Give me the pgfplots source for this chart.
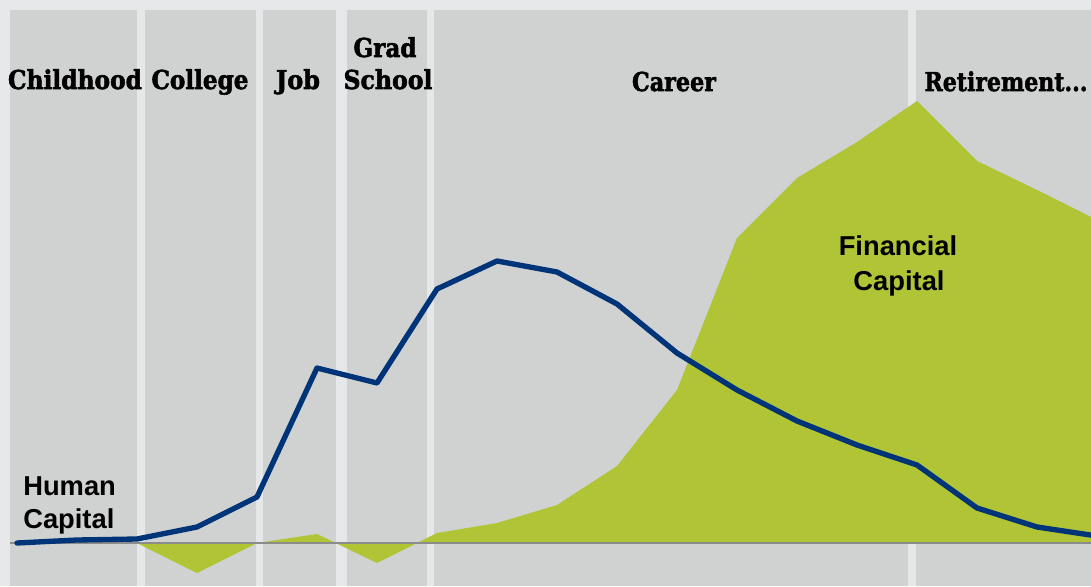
\documentclass[border=0pt]{standalone}
\usepackage{pgfplots}
\pgfplotsset{compat=1.18}
\usepackage{fontspec}
\setmainfont{Liberation Sans}
\newfontfamily\hdr{DejaVu Serif}[BoldFeatures={FakeBold=2.2}]
\definecolor{bgc}{HTML}{E6E7E8}
\definecolor{band}{HTML}{D0D2D1}
\definecolor{fin}{HTML}{B0C436}
\definecolor{hum}{HTML}{003478}
\definecolor{base}{HTML}{8C8C8C}
\newcommand{\hd}[2]{{\hdr\bfseries\fontsize{19.5}{20}\selectfont\resizebox{#1}{\height}{#2}}}
\newcommand{\lb}{\bfseries\fontsize{20.5}{21}\selectfont}
\begin{document}
\begin{tikzpicture}
\begin{axis}[name=ax, scale only axis, width=818.25pt, height=439.5pt,
  xmin=0, xmax=1091, ymin=-43, ymax=543, hide axis, clip=true]
\fill[bgc] (axis cs:0,-43) rectangle (axis cs:1091,543);
\fill[band] (axis cs:10,-43) rectangle (axis cs:137,533);
\fill[band] (axis cs:145,-43) rectangle (axis cs:256,533);
\fill[band] (axis cs:263,-43) rectangle (axis cs:336,533);
\fill[band] (axis cs:347,-43) rectangle (axis cs:427,533);
\fill[band] (axis cs:434,-43) rectangle (axis cs:908,533);
\fill[band] (axis cs:916,-43) rectangle (axis cs:1091,533);
\addplot[fill=fin, draw=none] coordinates {
(137,0) (197,-30) (257,0) (317,9) (377,-20) (437,10) (497,20) (557,38)
(617,77) (677,153) (737,305) (797,365) (857,401) (917,442) (977,382)
(1037,353) (1097,323)} \closedcycle;
\addplot[base, line width=1.5pt] coordinates {(10,0) (1091,0)};
\addplot[hum, line width=4pt, line cap=round, line join=round] coordinates {
(17,0) (77,3) (137,4) (197,16) (257,46) (317,175) (377,160) (437,254)
(497,282) (557,271) (617,239) (677,190) (737,153) (797,122) (857,98)
(917,78) (977,35) (1037,16) (1097,7)};
\node[anchor=base] at (axis cs:75,454) {\hd{100.5pt}{Childhood}};
\node[anchor=base] at (axis cs:200,454) {\hd{72.75pt}{College}};
\node[anchor=base] at (axis cs:298,454) {\hd{33pt}{Job}};
\node[anchor=base] at (axis cs:385,486) {\hd{47.25pt}{Grad}};
\node[anchor=base] at (axis cs:388,454) {\hd{66.75pt}{School}};
\node[anchor=base] at (axis cs:674,452) {\hd{63pt}{Career}};
\node[anchor=base] at (axis cs:1006,452) {\hd{122.25pt}{Retirement...}};
\node[anchor=base west, inner sep=0pt] at (axis cs:23,48) {\lb Human};
\node[anchor=base west, inner sep=0pt] at (axis cs:23,15) {\lb Capital};
\node[anchor=base, inner sep=0pt] at (axis cs:898,287) {\lb Financial};
\node[anchor=base, inner sep=0pt] at (axis cs:899,253) {\lb Capital};
\end{axis}
\pgfresetboundingbox
\path[use as bounding box] (ax.south west) rectangle (ax.north east);
\end{tikzpicture}
\end{document}
